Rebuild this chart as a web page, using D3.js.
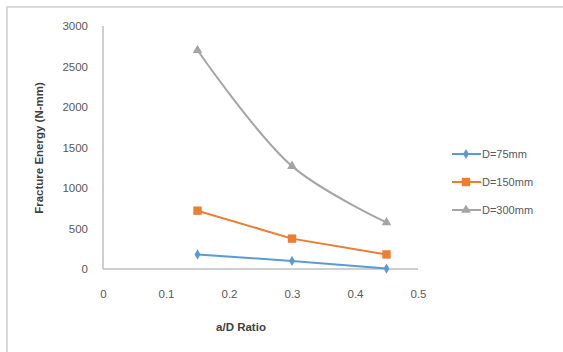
<!DOCTYPE html>
<html>
<head>
<meta charset="utf-8">
<script src="https://cdn.jsdelivr.net/npm/d3@7"></script>
<style>
  html, body { margin: 0; padding: 0; background: #fff; }
  svg { display: block; }
</style>
</head>
<body>
<svg id="chart" width="563" height="352"></svg>
<script>
// a/D ratios tested
const ratios = [0.15, 0.3, 0.45];
// Fracture energy (N-mm) for each beam depth
const d75 = [180, 100, 5];
const d150 = [720, 375, 180];
const d300 = [2700, 1270, 575];
const seriesNames = ["D=75mm", "D=150mm", "D=300mm"];
const xTicks = [0, 0.1, 0.2, 0.3, 0.4, 0.5];
const yTicks = [0, 500, 1000, 1500, 2000, 2500, 3000];

const svg = d3.select("#chart");
const W = 563, H = 352;

// chart frame
svg.append("rect").attr("x", 7).attr("y", 7).attr("width", W).attr("height", H)
  .attr("fill", "#fff").attr("stroke", "#d9d9d9").attr("stroke-width", 2);

const x = d3.scaleLinear().domain([0, 0.5]).range([103, 418]);
const y = d3.scaleLinear().domain([0, 3000]).range([269, 26]);

const font = "'Liberation Sans', Arial, sans-serif";

// axis lines
svg.append("line").attr("x1", x(0)).attr("x2", x(0)).attr("y1", y(3000)).attr("y2", y(0))
  .attr("stroke", "#bfbfbf").attr("stroke-width", 1.5);
svg.append("line").attr("x1", x(0)).attr("x2", x(0.5)).attr("y1", y(0)).attr("y2", y(0))
  .attr("stroke", "#bfbfbf").attr("stroke-width", 1.5);

// y tick labels
const yAxis = d3.axisLeft(y).tickValues(yTicks).tickSize(0).tickPadding(15).tickFormat(d3.format("d"));
const gy = svg.append("g").attr("transform", `translate(${x(0)},0)`).call(yAxis);
gy.select(".domain").remove();
gy.selectAll("text").attr("font-family", font).attr("font-size", 11.5).attr("fill", "#595959");

// x tick labels
const xAxis = d3.axisBottom(x).tickValues(xTicks).tickSize(0).tickPadding(21)
  .tickFormat(d => d === 0 ? "0" : d3.format(".1f")(d));
const gx = svg.append("g").attr("transform", `translate(0,${y(0)})`).call(xAxis);
gx.select(".domain").remove();
gx.selectAll("text").attr("font-family", font).attr("font-size", 11.5).attr("fill", "#595959");

// axis titles
svg.append("text").attr("x", 241).attr("y", 331).attr("text-anchor", "middle")
  .attr("font-family", font).attr("font-size", 11.5).attr("font-weight", "bold").attr("fill", "#404040")
  .text("a/D Ratio");
svg.append("text").attr("transform", "translate(43,148) rotate(-90)").attr("text-anchor", "middle")
  .attr("font-family", font).attr("font-size", 11.5).attr("font-weight", "bold").attr("fill", "#404040")
  .text("Fracture Energy (N-mm)");

const series = [
  { name: seriesNames[0], values: d75, color: "#5b9bd5", marker: d3.symbolDiamond, size: 30, curve: d3.curveLinear },
  { name: seriesNames[1], values: d150, color: "#ed7d31", marker: d3.symbolSquare, size: 70, curve: d3.curveLinear },
  { name: seriesNames[2], values: d300, color: "#a5a5a5", marker: d3.symbolTriangle, size: 40, curve: d3.curveCatmullRom.alpha(0.5) }
];

series.forEach(s => {
  const pts = ratios.map((r, i) => [r, s.values[i]]);
  const line = d3.line().x(d => x(d[0])).y(d => y(d[1])).curve(s.curve);
  svg.append("path").attr("d", line(pts)).attr("fill", "none")
    .attr("stroke", s.color).attr("stroke-width", 2);
  svg.selectAll(null).data(pts).enter().append("path")
    .attr("transform", d => `translate(${x(d[0])},${y(d[1])})`)
    .attr("d", d3.symbol().type(s.marker).size(s.size))
    .attr("fill", s.color);
});

// legend
const legend = svg.append("g");
series.forEach((s, i) => {
  const ly = 154 + i * 28;
  legend.append("line").attr("x1", 452).attr("x2", 481).attr("y1", ly).attr("y2", ly)
    .attr("stroke", s.color).attr("stroke-width", 2);
  legend.append("path").attr("transform", `translate(466,${ly})`)
    .attr("d", d3.symbol().type(s.marker).size(s.size)).attr("fill", s.color);
  legend.append("text").attr("x", 482).attr("y", ly).attr("dy", "0.35em")
    .attr("font-family", font).attr("font-size", 11).attr("fill", "#595959").text(s.name);
});
</script>
</body>
</html>
